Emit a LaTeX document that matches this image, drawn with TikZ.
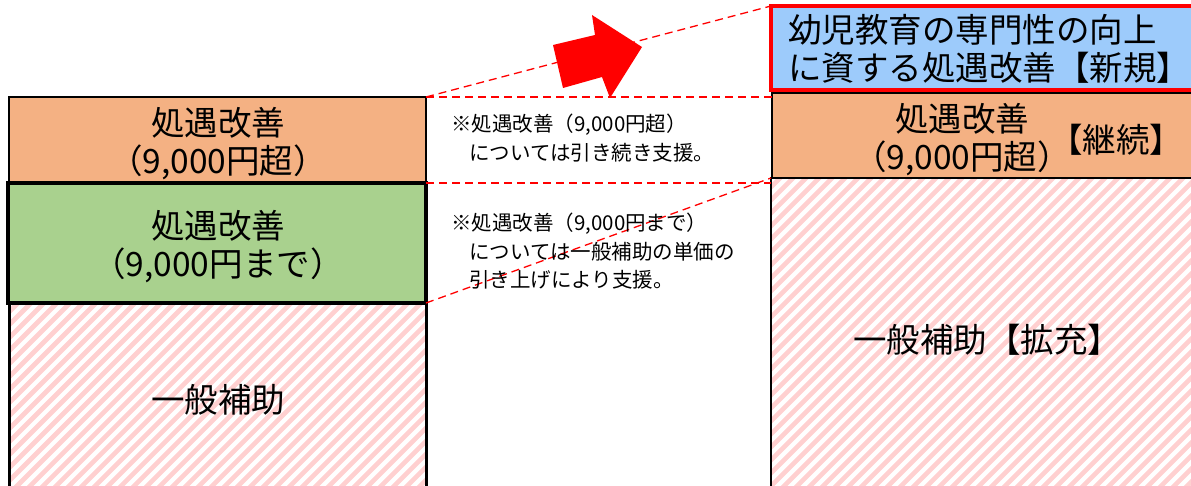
\documentclass[tikz,border=0pt]{standalone}
\usepackage{fontspec}
\setmainfont{Noto Sans CJK JP}
\definecolor{orng}{HTML}{F4B183}
\definecolor{grn}{HTML}{A9D18E}
\definecolor{blu}{HTML}{9DCBFB}
\definecolor{hatchpink}{HTML}{FFD0D0}
\begin{document}
\begin{tikzpicture}[x=1pt,y=-1pt,
  box/.style={draw=black, line width=3pt, anchor=north west, inner sep=0pt, outer sep=0pt},
  hatchline/.style={draw=hatchpink, line width=4.6pt},
  big/.style={font=\fontsize{33.5}{38}\selectfont, align=center, inner sep=0pt},
  note/.style={font=\fontsize{20.5}{28.5}\selectfont, align=left, inner sep=0pt, anchor=north west},
  guide/.style={draw=red, line width=1.3pt, dash pattern=on 8pt off 5pt}]
\useasboundingbox (0,0) rectangle (1191,486);
\clip (0,0) rectangle (1191,486);

% left column: hatched general-subsidy box
\node[box, draw=none, fill=white, minimum width=417pt, minimum height=220pt] (lh) at (9,303) {};
\begin{scope}
  \clip (lh.north west) rectangle (lh.south east);
  \foreach \k in {-50,...,95} \draw[hatchline] (\k*13,620) -- ++(720,-720);
\end{scope}
\draw[line width=3pt] (lh.north west) rectangle (lh.south east);
\node[box, fill=orng, line width=2.5pt, minimum width=417pt, minimum height=86pt] (lo) at (9,97) {};
\node[box, fill=grn, line width=3.5pt, minimum width=418pt, minimum height=120pt] (lg) at (8,183) {};

% right column
\node[box, draw=none, fill=white, minimum width=440pt, minimum height=340pt] (rh) at (771,178) {};
\begin{scope}
  \clip (rh.north west) rectangle (rh.south east);
  \foreach \k in {-50,...,95} \draw[hatchline] (\k*13,620) -- ++(720,-720);
\end{scope}
\draw[line width=2.5pt] (rh.north west) rectangle (rh.south east);
\node[box, fill=orng, line width=2pt, minimum width=440pt, minimum height=85pt] (ro) at (772,93) {};
\node[box, draw=red, fill=blu, line width=4pt, minimum width=440pt, minimum height=84pt] (rb) at (771,6) {};

% dashed guide lines
\draw[guide] (lo.north east) -- (rb.north west);
\draw[guide] (lo.north east) -- (lo.north east -| ro.west);
\draw[guide] (lg.north east) -- (lg.north east -| rh.west);
\draw[guide] (lg.south east) -- (rh.north west);

% red block arrow
\fill[red] (553,45) -- (595,35) -- (592,15) -- (642,47) -- (610,98) -- (602,77) -- (563,88) -- cycle;

% texts
\node[big] (t1) at (218,144) {処遇改善\\（9,000円超）};
\node[big] (t2) at (218,247) {処遇改善\\（9,000円まで）};
\node[big] (t3) at (218,400) {一般補助};
\node[big, align=left, anchor=west] (t4) at (788,49) {幼児教育の専門性の向上\\に資する処遇改善【新規】};
\node[big] (t5) at (962,140) {処遇改善\\（9,000円超）};
\node[big] (t6) at (1116,140) {【継続】};
\node[big] (t7) at (987,340) {一般補助【拡充】};
\node[note] (n1) at (451,114) {※処遇改善（9,000円超）\\\hspace*{18pt}については引き続き支援。};
\node[note] (n2) at (451,213) {※処遇改善（9,000円まで）\\\hspace*{18pt}については一般補助の単価の\\\hspace*{18pt}引き上げにより支援。};
\end{tikzpicture}
\end{document}
